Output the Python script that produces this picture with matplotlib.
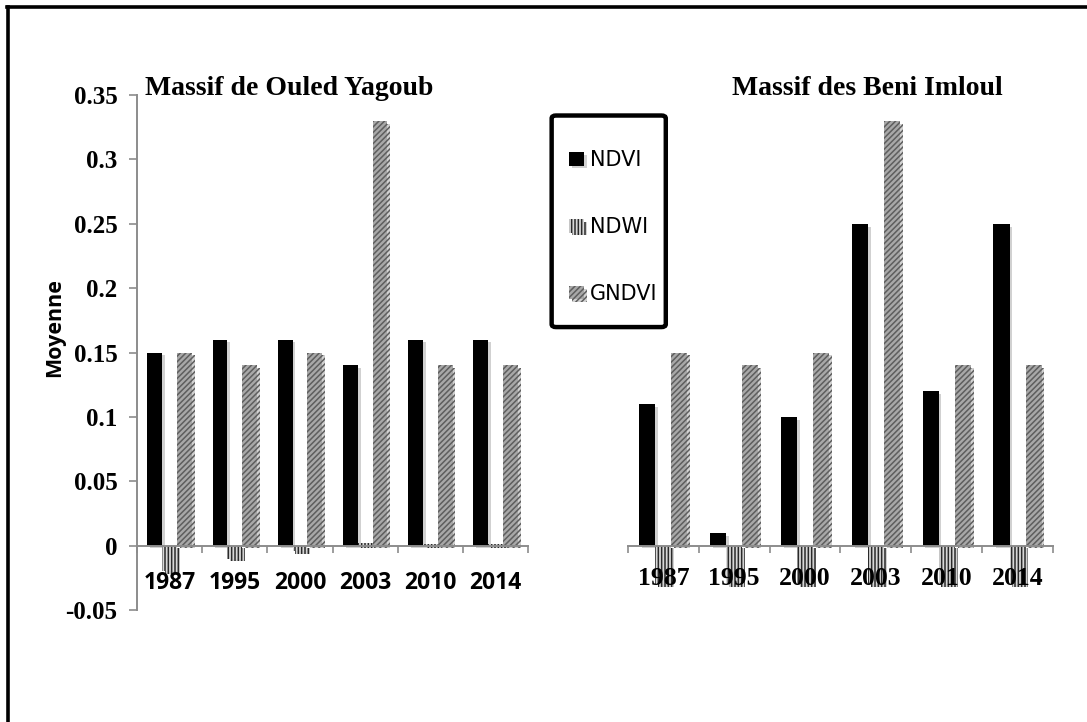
import numpy as np
import matplotlib
matplotlib.use('Agg')
import matplotlib.pyplot as plt
import matplotlib.patheffects as pe
from matplotlib.lines import Line2D
from matplotlib.patches import FancyBboxPatch

plt.rcParams['hatch.linewidth'] = 1.1

years = ['1987', '1995', '2000', '2003', '2010', '2014']
series = ['NDVI', 'NDWI', 'GNDVI']

# Massif de Ouled Yagoub
oy_ndvi = [0.15, 0.16, 0.16, 0.14, 0.16, 0.16]
oy_ndwi = [-0.02, -0.01, -0.004, 0.002, 0.001, 0.001]
oy_gndvi = [0.15, 0.14, 0.15, 0.33, 0.14, 0.14]

# Massif des Beni Imloul
bi_ndvi = [0.11, 0.01, 0.10, 0.25, 0.12, 0.25]
bi_ndwi = [-0.03, -0.03, -0.03, -0.03, -0.03, -0.03]
bi_gndvi = [0.15, 0.14, 0.15, 0.33, 0.14, 0.14]

yticks = [-0.05, 0, 0.05, 0.1, 0.15, 0.2, 0.25, 0.3, 0.35]
ytick_labels = ['-0.05', '0', '0.05', '0.1', '0.15', '0.2', '0.25', '0.3', '0.35']

serif = 'Liberation Serif'
sans = 'Open Sans'
grey = '#8c8c8c'

styles = {
    'NDVI': dict(color='black', edgecolor='black', linewidth=0),
    'NDWI': dict(color='#d8d8d8', edgecolor='#2a2a2a', hatch='|||||', linewidth=0),
    'GNDVI': dict(color='#a8a8a8', edgecolor='#5e5e5e', hatch='//////', linewidth=0),
}
shadow = [pe.SimplePatchShadow(offset=(2, -2), shadow_rgbFace='#9a9a9a', alpha=0.45), pe.Normal()]

fig = plt.figure(figsize=(10.87, 7.22), dpi=100)


def draw_panel(ax, vals, title, title_x, title_ha, tick_font, tick_size, tick_pad, show_y):
    x = np.arange(len(years))
    w = 0.227
    bars = []
    for k, (name, v) in enumerate(zip(series, vals)):
        b = ax.bar(x + (k - 1) * w, v, w, label=name, **styles[name])
        for p in b:
            p.set_path_effects(shadow)
        bars.append(b)
    ax.set_xlim(-0.5, len(years) - 0.5)
    ax.set_ylim(-0.05, 0.35)
    ax.spines['top'].set_visible(False)
    ax.spines['right'].set_visible(False)
    ax.spines['bottom'].set_position(('data', 0))
    ax.spines['bottom'].set_color(grey)
    ax.spines['bottom'].set_linewidth(1.4)
    # boundary ticks without labels, year labels on minor ticks at centres
    ax.set_xticks(np.arange(len(years) + 1) - 0.5)
    ax.set_xticklabels([])
    ax.set_xticks(x, minor=True)
    ax.set_xticklabels(years, minor=True, fontfamily=tick_font, fontweight='bold', fontsize=tick_size)
    ax.tick_params(axis='x', which='major', direction='out', length=5, color=grey, width=1.2)
    ax.tick_params(axis='x', which='minor', length=0, pad=tick_pad)
    if show_y:
        ax.spines['left'].set_color(grey)
        ax.spines['left'].set_linewidth(1.4)
        ax.set_yticks(yticks)
        ax.set_yticklabels(ytick_labels, fontfamily=serif, fontweight='bold', fontsize=18)
        ax.tick_params(axis='y', direction='out', length=6, color=grey, width=1.2, pad=8)
    else:
        ax.spines['left'].set_visible(False)
        ax.set_yticks([])
    fig.text(title_x, 0.868, title, ha=title_ha, va='baseline', fontfamily=serif,
             fontweight='bold', fontsize=20)
    return bars


ax1 = fig.add_axes([0.126, 0.155, 0.36, 0.7133])
ax2 = fig.add_axes([0.5777, 0.155, 0.391, 0.7133])

bars = draw_panel(ax1, [oy_ndvi, oy_ndwi, oy_gndvi], 'Massif de Ouled Yagoub',
                  0.133, 'left', sans, 16.5, 18, True)
draw_panel(ax2, [bi_ndvi, bi_ndwi, bi_gndvi], 'Massif des Beni Imloul',
           0.798, 'center', serif, 18.5, 15, False)

fig.text(0.05, 0.547, 'Moyenne', rotation=90, ha='center', va='center',
         fontfamily=sans, fontweight='bold', fontsize=15.5)

# legend with a separate thick rounded frame
fig.legend(handles=bars, labels=series, loc='upper left',
           bbox_to_anchor=(0.508, 0.815), frameon=False,
           prop={'family': 'DejaVu Sans', 'size': 15},
           handlelength=0.75, handleheight=0.62, handletextpad=0.25,
           labelspacing=2.25, borderpad=0.3)
fig.add_artist(FancyBboxPatch((0.5075, 0.547), 0.105, 0.293, boxstyle='round,pad=0,rounding_size=0.004',
                              transform=fig.transFigure, facecolor='none', edgecolor='black',
                              linewidth=3.2, zorder=5))

# outer frame: top and left edges only
fig.add_artist(Line2D([0.006, 1.0], [0.9905, 0.9905], transform=fig.transFigure, color='black', linewidth=2.6))
fig.add_artist(Line2D([0.0069, 0.0069], [0.0, 0.9905], transform=fig.transFigure, color='black', linewidth=2.6))

fig.savefig('out.png', dpi=100)
